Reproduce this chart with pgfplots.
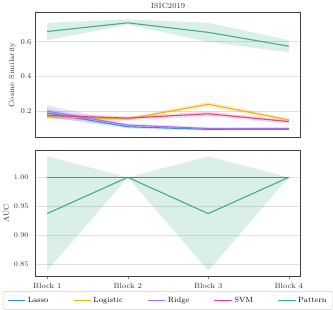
\documentclass[border=0pt]{standalone}
\usepackage{pgfplots}
\pgfplotsset{compat=1.18}
\definecolor{classo}{HTML}{3F8AD4}
\definecolor{clog}{HTML}{E8B516}
\definecolor{cridge}{HTML}{A56EF5}
\definecolor{csvm}{HTML}{EA3F8A}
\definecolor{cpat}{HTML}{45AE84}
\newcommand\lbl{\fontsize{7.4}{9}\selectfont}
\pgfplotsset{
  myax/.style={
    scale only axis, width=261pt, height=123pt,
    xmin=-0.15, xmax=3.15,
    axis line style={draw=black!75, line width=1pt},
    ymajorgrids, grid style={gray!25, line width=0.8pt},
    ytick style={draw=none},
    xtick={0,1,2,3},
    tick label style={font=\lbl, text=black!80},
    label style={font=\lbl, text=black!80},
    ylabel shift=-2pt,
  },
  band/.style={draw=none, fill=#1, fill opacity=0.2, forget plot},
  ln/.style={color=#1, line width=1.1pt},
  lg/.style={draw=#1, line width=1.1pt},
}
\begin{document}
\begin{tikzpicture}
\begin{axis}[myax, name=top,
  ymin=0.047, ymax=0.77,
  ytick={0.2,0.4,0.6},
  yticklabels={0.2,0.4,0.6},
  xticklabels={}, xtick style={draw=none},
  ylabel={Cosine Similarity},
  title={ISIC2019}, title style={font=\lbl, text=black!80, yshift=-6pt},
]
% bands
\addplot[band=cpat] coordinates {(0,0.71) (1,0.73) (2,0.71) (3,0.61) (3,0.54) (2,0.60) (1,0.70) (0,0.61)} -- cycle;
\addplot[band=clog] coordinates {(0,0.185) (1,0.165) (2,0.255) (3,0.16) (3,0.14) (2,0.225) (1,0.145) (0,0.155)} -- cycle;
\addplot[band=csvm] coordinates {(0,0.19) (1,0.17) (2,0.198) (3,0.15) (3,0.13) (2,0.172) (1,0.15) (0,0.16)} -- cycle;
\addplot[band=cridge] coordinates {(0,0.235) (1,0.13) (2,0.107) (3,0.107) (3,0.093) (2,0.093) (1,0.11) (0,0.165)} -- cycle;
\addplot[band=classo] coordinates {(0,0.215) (1,0.12) (2,0.102) (3,0.1) (3,0.09) (2,0.088) (1,0.10) (0,0.165)} -- cycle;
% means
\addplot[ln=classo] coordinates {(0,0.19) (1,0.11) (2,0.095) (3,0.095)};
\addplot[ln=clog] coordinates {(0,0.17) (1,0.155) (2,0.24) (3,0.15)};
\addplot[ln=cridge] coordinates {(0,0.20) (1,0.12) (2,0.10) (3,0.10)};
\addplot[ln=csvm] coordinates {(0,0.175) (1,0.16) (2,0.185) (3,0.14)};
\addplot[ln=cpat] coordinates {(0,0.66) (1,0.71) (2,0.655) (3,0.575)};
\end{axis}
\begin{axis}[myax, at={(top.south west)}, anchor=north west, yshift=-13pt,
  ymin=0.8295, ymax=1.0456,
  ytick={0.85,0.90,0.95,1.00},
  yticklabel style={/pgf/number format/fixed, /pgf/number format/fixed zerofill, /pgf/number format/precision=2},
  xticklabels={Block 1,Block 2,Block 3,Block 4},
  xtick pos=bottom, tick align=outside, major tick length=3pt,
  ylabel={AUC},
  legend columns=5,
  legend style={at={(0.5,-0.12)}, anchor=north, font=\lbl, draw=black!20, rounded corners=1.5pt,
    /tikz/every even column/.append style={column sep=22pt},
    inner xsep=4pt, inner ysep=3.5pt},
]
\addplot[band=cpat] coordinates {(0,1.036) (1,1.0) (2,1.036) (3,1.0) (3,1.0) (2,0.839) (1,1.0) (0,0.839)} -- cycle;
% Lasso, Logistic and Ridge all sit at 1.00 under the SVM line
\addplot[color=classo, line width=0.4pt, forget plot] coordinates {(0,1) (1,1) (2,1) (3,1)};
\addplot[color=clog, line width=0.4pt, forget plot] coordinates {(0,1) (1,1) (2,1) (3,1)};
\addplot[color=cridge, line width=0.4pt, forget plot] coordinates {(0,1) (1,1) (2,1) (3,1)};
\addplot[ln=cpat, forget plot] coordinates {(0,0.9375) (1,1) (2,0.9375) (3,1)};
\addplot[ln=csvm, forget plot] coordinates {(0,1) (1,1) (2,1) (3,1)};
\addlegendimage{lg=classo}\addlegendentry{Lasso}
\addlegendimage{lg=clog}\addlegendentry{Logistic}
\addlegendimage{lg=cridge}\addlegendentry{Ridge}
\addlegendimage{lg=csvm}\addlegendentry{SVM}
\addlegendimage{lg=cpat}\addlegendentry{Pattern}
\end{axis}
\end{tikzpicture}
\end{document}
